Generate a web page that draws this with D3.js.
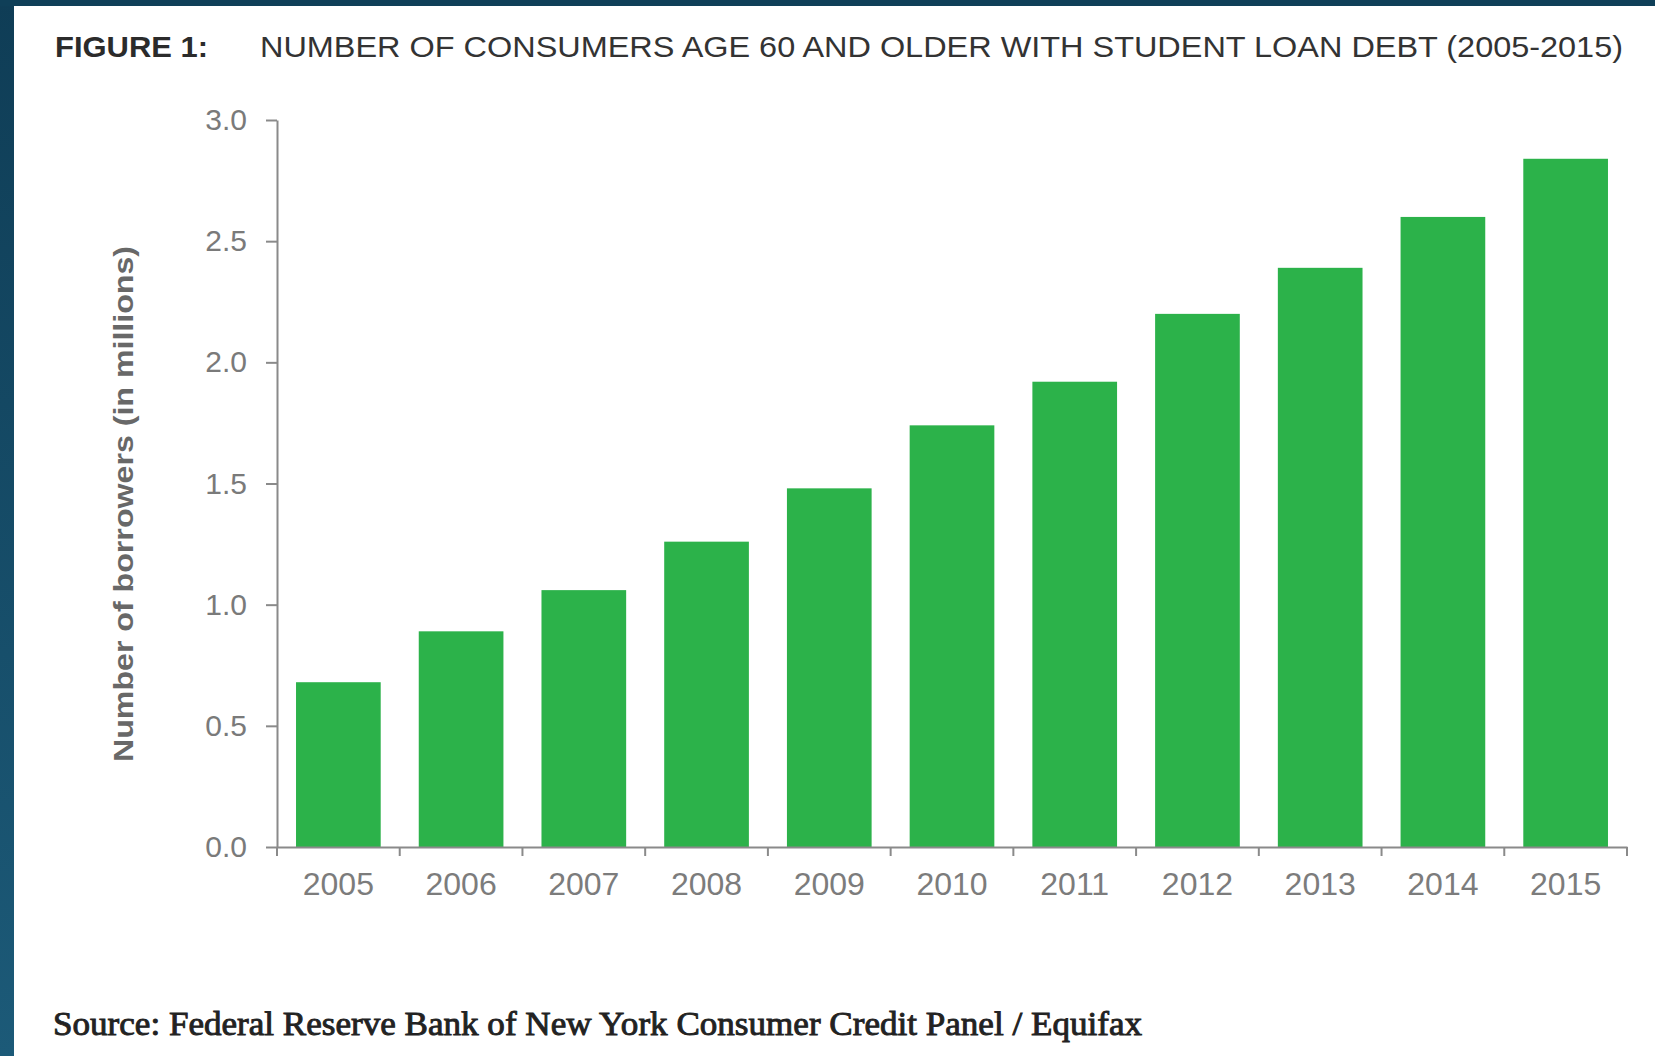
<!DOCTYPE html>
<html>
<head>
<meta charset="utf-8">
<script src="https://cdn.jsdelivr.net/npm/d3@7/dist/d3.min.js"></script>
<style>
  html, body { margin: 0; padding: 0; background: #ffffff; }
  svg { display: block; }
</style>
</head>
<body>
<script>
// Consumers age 60+ holding student loan debt, millions of borrowers
const years = ["2005", "2006", "2007", "2008", "2009", "2010", "2011", "2012", "2013", "2014", "2015"];
const borrowers = [0.68, 0.89, 1.06, 1.26, 1.48, 1.74, 1.92, 2.20, 2.39, 2.60, 2.84];
const yTicks = [0.0, 0.5, 1.0, 1.5, 2.0, 2.5, 3.0];

const figureLabel = "FIGURE 1:";
const titleText = "NUMBER OF CONSUMERS AGE 60 AND OLDER WITH STUDENT LOAN DEBT (2005-2015)";
const yAxisTitle = "Number of borrowers (in millions)";
const sourceText = "Source: Federal Reserve Bank of New York Consumer Credit Panel / Equifax";

const W = 1655, H = 1056;
const plot = { left: 277, right: 1627, top: 120, bottom: 847 };

const svg = d3.select("body").append("svg")
  .attr("width", W).attr("height", H);

// Frame: dark teal strip along the top and left edges
const defs = svg.append("defs");
const grad = defs.append("linearGradient")
  .attr("id", "edge").attr("x1", 0).attr("y1", 0).attr("x2", 0).attr("y2", 1);
grad.append("stop").attr("offset", "0%").attr("stop-color", "#0f3d56");
grad.append("stop").attr("offset", "100%").attr("stop-color", "#1c5a78");

svg.append("rect").attr("x", 0).attr("y", 0).attr("width", W).attr("height", H).attr("fill", "#ffffff");
svg.append("rect").attr("x", 0).attr("y", 0).attr("width", 14).attr("height", H).attr("fill", "url(#edge)");
svg.append("rect").attr("x", 0).attr("y", 0).attr("width", W).attr("height", 6).attr("fill", "#0f3f58");

// Scales
const x = d3.scaleBand()
  .domain(years)
  .range([plot.left, plot.right])
  .paddingInner(0.31)
  .paddingOuter(0.155);

const y = d3.scaleLinear()
  .domain([0, 3])
  .range([plot.bottom, plot.top]);

// Bars
svg.append("g").selectAll("rect")
  .data(years.map((yr, i) => ({ yr, v: borrowers[i] })))
  .join("rect")
  .attr("x", d => x(d.yr))
  .attr("width", x.bandwidth())
  .attr("y", d => y(d.v))
  .attr("height", d => y(0) - y(d.v))
  .attr("fill", "#2cb24a");

const axisColor = "#8a8a8a";
const tickFont = "'Liberation Sans', Arial, sans-serif";

// Y axis
const yAxis = svg.append("g")
  .attr("transform", `translate(${plot.left},0)`)
  .call(d3.axisLeft(y).tickValues(yTicks).tickFormat(d3.format(".1f")).tickSize(11).tickSizeOuter(0).tickPadding(19));
yAxis.select(".domain").attr("stroke", axisColor).attr("stroke-width", 2);
yAxis.selectAll(".tick line").attr("stroke", axisColor).attr("stroke-width", 2);
yAxis.selectAll(".tick text")
  .attr("fill", "#7a7a7a")
  .style("font-family", tickFont)
  .style("font-size", "30px");

// X axis: labels centred in each band, ticks on band boundaries
const xAxis = svg.append("g")
  .attr("transform", `translate(0,${plot.bottom})`)
  .call(d3.axisBottom(x).tickSize(0).tickSizeOuter(0).tickPadding(25));
xAxis.select(".domain").attr("stroke", axisColor).attr("stroke-width", 2);
xAxis.selectAll(".tick text")
  .attr("fill", "#7c7c7c")
  .style("font-family", tickFont)
  .style("font-size", "32px");

const step = x.step();
const x0 = x.range()[0];
xAxis.append("g").selectAll("line")
  .data(d3.range(years.length + 1))
  .join("line")
  .attr("x1", i => x0 + i * step)
  .attr("x2", i => x0 + i * step)
  .attr("y1", 0)
  .attr("y2", 9)
  .attr("stroke", axisColor)
  .attr("stroke-width", 2);

// Y axis title
svg.append("text")
  .attr("transform", "translate(133,504) rotate(-90)")
  .attr("text-anchor", "middle")
  .attr("textLength", 516)
  .attr("lengthAdjust", "spacingAndGlyphs")
  .attr("fill", "#686868")
  .style("font-family", tickFont)
  .style("font-weight", "bold")
  .style("font-size", "27px")
  .text(yAxisTitle);

// Figure heading
svg.append("text")
  .attr("x", 55).attr("y", 57)
  .attr("textLength", 153)
  .attr("lengthAdjust", "spacingAndGlyphs")
  .attr("fill", "#2b2b2b")
  .style("font-family", tickFont)
  .style("font-weight", "bold")
  .style("font-size", "30px")
  .text(figureLabel);

svg.append("text")
  .attr("x", 260).attr("y", 57)
  .attr("textLength", 1363)
  .attr("lengthAdjust", "spacingAndGlyphs")
  .attr("fill", "#333333")
  .style("font-family", tickFont)
  .style("font-size", "30px")
  .text(titleText);

// Source note (slightly heavy serif)
svg.append("text")
  .attr("x", 53).attr("y", 1035)
  .attr("textLength", 1089)
  .attr("lengthAdjust", "spacingAndGlyphs")
  .attr("fill", "#222222")
  .attr("stroke", "#222222")
  .attr("stroke-width", 0.9)
  .style("font-family", "'Liberation Serif', 'DejaVu Serif', serif")
  .style("font-size", "33px")
  .text(sourceText);
</script>
</body>
</html>
